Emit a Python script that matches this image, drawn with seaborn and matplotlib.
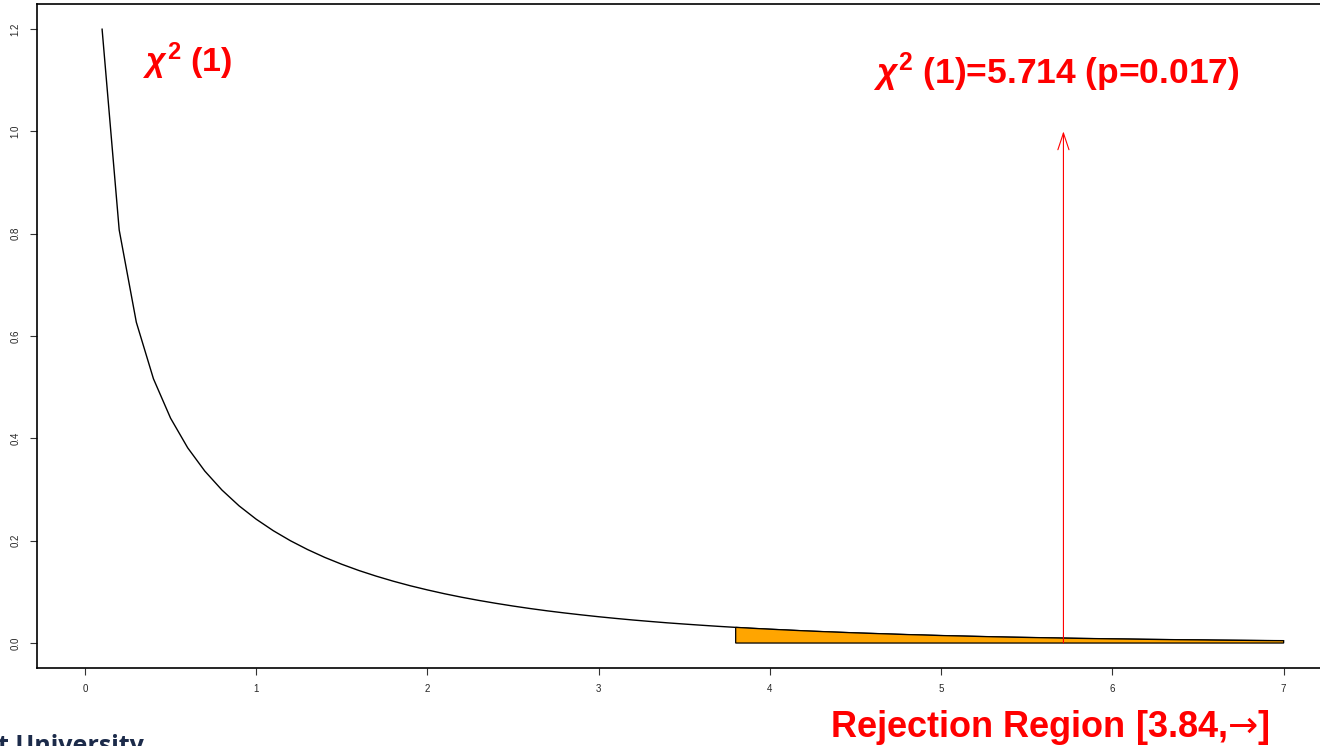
import numpy as np
import pandas as pd
import matplotlib
matplotlib.use("Agg")
import matplotlib.pyplot as plt
import seaborn as sns

# ---- data ----
x_vals = [0.1, 0.2, 0.3, 0.4, 0.5, 0.6, 0.7, 0.8, 0.9, 1.0,
          1.1, 1.2, 1.3, 1.4, 1.5, 1.6, 1.7, 1.8, 1.9, 2.0,
          2.1, 2.2, 2.3, 2.4, 2.5, 2.6, 2.7, 2.8, 2.9, 3.0,
          3.1, 3.2, 3.3, 3.4, 3.5, 3.6, 3.7, 3.8, 3.9, 4.0,
          4.1, 4.2, 4.3, 4.4, 4.5, 4.6, 4.7, 4.8, 4.9, 5.0,
          5.1, 5.2, 5.3, 5.4, 5.5, 5.6, 5.7, 5.8, 5.9, 6.0,
          6.1, 6.2, 6.3, 6.4, 6.5, 6.6, 6.7, 6.8, 6.9, 7.0]
density = [1.2000, 0.8072, 0.6269, 0.5164, 0.4394, 0.3815, 0.3360, 0.2990, 0.2681, 0.2420,
           0.2195, 0.1999, 0.1827, 0.1674, 0.1539, 0.1417, 0.1308, 0.1209, 0.1119, 0.1038,
           0.0963, 0.0895, 0.0833, 0.0776, 0.0723, 0.0674, 0.0629, 0.0588, 0.0550, 0.0514,
           0.0481, 0.0450, 0.0422, 0.0395, 0.0371, 0.0348, 0.0326, 0.0306, 0.0287, 0.0270,
           0.0254, 0.0238, 0.0224, 0.0211, 0.0198, 0.0187, 0.0176, 0.0165, 0.0156, 0.0146,
           0.0138, 0.0130, 0.0122, 0.0115, 0.0109, 0.0103, 0.0097, 0.0091, 0.0086, 0.0081,
           0.0077, 0.0072, 0.0068, 0.0064, 0.0061, 0.0057, 0.0054, 0.0051, 0.0048, 0.0046]
reject_start = 3.8
stat_value = 5.714
arrow_top = 1.0
x_ticks = [0, 1, 2, 3, 4, 5, 6, 7]
y_ticks = [0.0, 0.2, 0.4, 0.6, 0.8, 1.0, 1.2]
y_tick_labels = ["0.0", "0.2", "0.4", "0.6", "0.8", "1.0", "1.2"]
label_dist = r"$\chi^2$ (1)"
label_stat = r"$\chi^2$ (1)=5.714 (p=0.017)"
label_region = r"Rejection Region [3.84,$\mathsf{→}$]"
label_footer = "t University"

sns.set_theme(style="white")
plt.rcParams["font.family"] = ["Liberation Sans", "DejaVu Sans"]
plt.rcParams["mathtext.fontset"] = "custom"
plt.rcParams["mathtext.rm"] = "Liberation Sans:bold"
plt.rcParams["mathtext.it"] = "Liberation Sans:italic:bold"
plt.rcParams["mathtext.bf"] = "Liberation Sans:bold"
plt.rcParams["mathtext.sf"] = "DejaVu Sans"

df = pd.DataFrame({"x": x_vals, "y": density})

fig = plt.figure(figsize=(13.2, 7.46), dpi=100)
ax = fig.add_axes([37 / 1320, 78.4 / 746, 1294.6 / 1320, 663.2 / 746])

sns.lineplot(data=df, x="x", y="y", ax=ax, color="black", lw=1.0)

# rejection region polygon
xr = np.array(x_vals)
yr = np.array(density)
mask = xr >= reject_start - 1e-9
px = np.concatenate([[reject_start], xr[mask], [xr[mask][-1]]])
py = np.concatenate([[0.0], yr[mask], [0.0]])
ax.fill(px, py, facecolor="#FFA500", edgecolor="black", lw=0.9, zorder=3)

# arrow for test statistic
ax.annotate("", xy=(stat_value, arrow_top), xytext=(stat_value, 0.0),
            arrowprops=dict(arrowstyle="->,head_length=0.6,head_width=0.2",
                            color="red", lw=0.8, mutation_scale=20,
                            shrinkA=0, shrinkB=0), zorder=4)

ax.set_xlim(-0.28, 7.28)
ax.set_ylim(-0.048, 1.248)
ax.set_xticks(x_ticks)
ax.set_yticks(y_ticks)
ax.set_yticklabels(y_tick_labels, rotation=90, va="center")
ax.set_xlabel("")
ax.set_ylabel("")
ax.tick_params(axis="both", which="major", direction="out", length=5, width=0.8,
               color="#333333", labelsize=7, pad=7, left=True, bottom=True)
for s in ["left", "bottom", "top", "right"]:
    ax.spines[s].set_visible(True)
    ax.spines[s].set_color("black")
    ax.spines[s].set_linewidth(1.2)

ax.text(0.34, 1.116, label_dist, color="red", fontsize=24.5, fontweight="bold",
        ha="left", va="baseline")
ax.text(4.60, 1.092, label_stat, color="red", fontsize=25.5, fontweight="bold",
        ha="left", va="baseline")
fig.text(830 / 1320, 9 / 746, label_region, color="red", fontsize=26,
         fontweight="bold", ha="left", va="baseline")
fig.text(-2 / 1320, -7 / 746, label_footer, color="#1c2b4a", fontsize=18,
         fontweight="bold", ha="left", va="baseline", family=["Open Sans", "DejaVu Sans"])

fig.savefig("out.png", dpi=100)
